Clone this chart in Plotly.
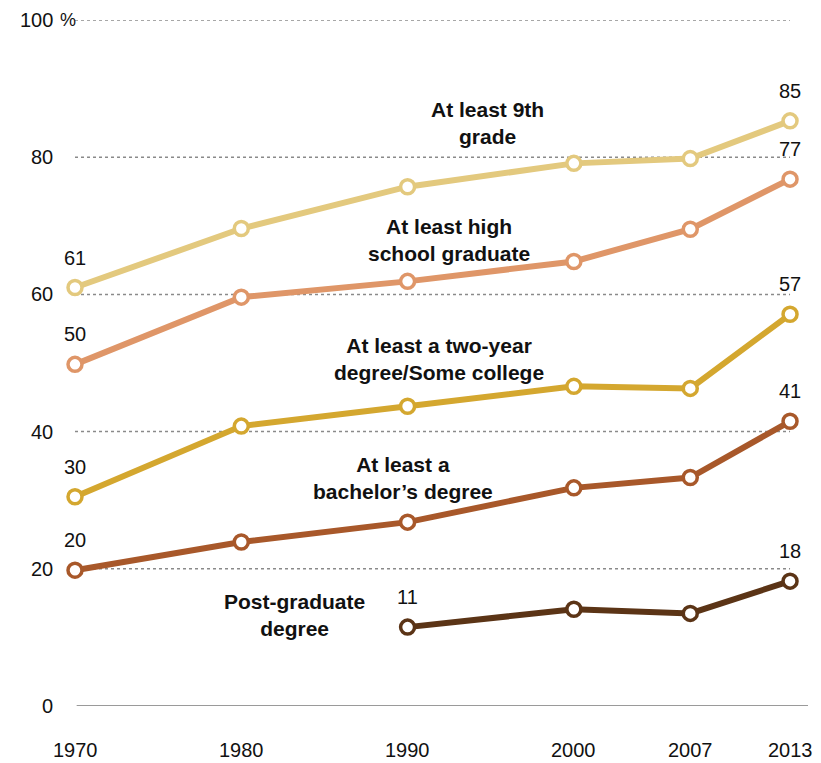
import plotly.graph_objects as go

years = [1970, 1980, 1990, 2000, 2007, 2013]
ninth = [61, 69.6, 75.7, 79.1, 79.8, 85.3]
high_school = [49.8, 59.6, 61.9, 64.8, 69.5, 76.8]
two_year = [30.5, 40.8, 43.7, 46.6, 46.3, 57.1]
bachelor = [19.8, 23.9, 26.8, 31.8, 33.3, 41.5]
post_years = [1990, 2000, 2007, 2013]
post_grad = [11.5, 14.1, 13.5, 18.2]

series_names = ["At least 9th<br>grade", "At least high<br>school graduate",
                "At least a two-year<br>degree/Some college",
                "At least a<br>bachelor’s degree", "Post-graduate<br>degree"]
colors = ["#E3C97E", "#DF9668", "#D4A72F", "#A8582A", "#5B3416"]
name_pos = [(1994.8, 85.0), (1992.5, 68.0), (1991.9, 50.6), (1989.7, 33.2), (1983.2, 13.2)]

start_labels = ["61", "50", "30", "20", "11"]
end_labels = ["85", "77", "57", "41", "18"]

y_ticks = [0, 20, 40, 60, 80, 100]
y_tick_text = ["0", "20", "40", "60", "80", "100"]

all_x = [years, years, years, years, post_years]
all_y = [ninth, high_school, two_year, bachelor, post_grad]

fig = go.Figure()

for t in y_ticks[1:]:
    fig.add_shape(type="line", x0=1970, x1=2013, y0=t, y1=t, xref="x", yref="y",
                  line=dict(color="#8a8a8a", width=1.5, dash="dot"), layer="below")
fig.add_shape(type="line", x0=1970.1, x1=2014.1, y0=0, y1=0, xref="x", yref="y",
              line=dict(color="#9a9a9a", width=2), layer="below")

for xs, ys, c in zip(all_x, all_y, colors):
    fig.add_trace(go.Scatter(x=xs, y=ys, mode="lines+markers",
                             line=dict(color=c, width=6),
                             marker=dict(size=14, color="white", line=dict(color=c, width=3.5)),
                             showlegend=False, hoverinfo="skip"))

font_reg = "Liberation Sans Narrow, Liberation Sans, Arial"
ann = []
for xs, ys, s, e in zip(all_x, all_y, start_labels, end_labels):
    ann.append(dict(x=xs[0], y=ys[0], text=s, showarrow=False, yshift=30,
                    font=dict(family=font_reg, size=20, color="#111")))
    ann.append(dict(x=xs[-1], y=ys[-1], text=e, showarrow=False, yshift=30,
                    font=dict(family=font_reg, size=20, color="#111")))
for name, (px, py) in zip(series_names, name_pos):
    ann.append(dict(x=px, y=py, text="<b>" + name + "</b>", showarrow=False,
                    align="center",
                    font=dict(family=font_reg, size=21, color="#111")))
for t, lab in zip(y_ticks, y_tick_text):
    ann.append(dict(x=0.068, xref="paper", y=t, yref="y", text=lab, showarrow=False,
                    xanchor="right",
                    font=dict(family=font_reg, size=20, color="#111")))
ann.append(dict(x=0.068, xref="paper", y=100, yref="y", text="%", showarrow=False,
                xanchor="left", xshift=3, font=dict(family=font_reg, size=18, color="#111")))
for yr in years:
    ann.append(dict(x=yr, y=0, yref="y", text=str(yr), showarrow=False, yshift=-44,
                    font=dict(family=font_reg, size=20, color="#111")))

fig.update_layout(
    width=821, height=763,
    margin=dict(l=0, r=13, t=20, b=57),
    plot_bgcolor="white", paper_bgcolor="white",
    xaxis=dict(range=[1965.49, 2014.08], showgrid=False, zeroline=False, showticklabels=False,
               showline=False, ticks=""),
    yaxis=dict(range=[0, 100], showgrid=False, zeroline=False, showticklabels=False,
               showline=False, ticks=""),
    annotations=ann,
)

fig.write_html("out.html", config={"displayModeBar": False},
               post_script="document.body.style.margin='0';document.body.style.overflow='hidden';")
